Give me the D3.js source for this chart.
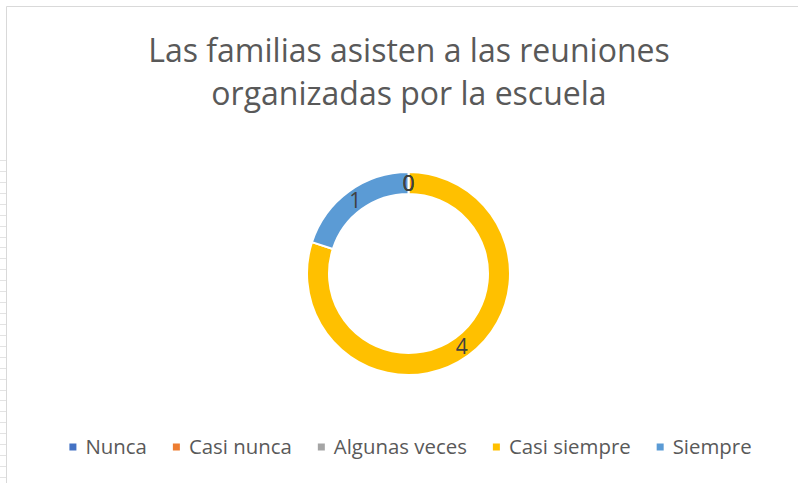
<!DOCTYPE html>
<html>
<head>
<meta charset="utf-8">
<script src="https://cdn.jsdelivr.net/npm/d3@7"></script>
<style>
  body { margin: 0; background: #fff; }
  svg text { font-family: "Open Sans", sans-serif; }
</style>
</head>
<body>
<div id="chart"></div>
<script>
var width = 798, height = 483;

// data
var categories = ["Nunca", "Casi nunca", "Algunas veces", "Casi siempre", "Siempre"];
var values = [0, 0, 0, 4, 1];
var colors = ["#4472C4", "#ED7D31", "#A5A5A5", "#FFC000", "#5B9BD5"];
var titleLines = ["Las familias asisten a las reuniones", "organizadas por la escuela"];

var svg = d3.select("#chart").append("svg")
    .attr("width", width)
    .attr("height", height);

// spreadsheet rows peeking out on the left
svg.append("g")
    .selectAll("line")
    .data(d3.range(160, height, 10.93))
  .enter().append("line")
    .attr("x1", 0).attr("x2", 7)
    .attr("y1", function(d) { return Math.round(d) + 0.5; })
    .attr("y2", function(d) { return Math.round(d) + 0.5; })
    .style("stroke", "#e3e3e3");

// chart frame
svg.append("path")
    .attr("d", "M6.5," + height + "V6.5H" + width)
    .style("fill", "none")
    .style("stroke", "#d9d9d9");

// title
svg.append("text")
    .attr("x", 409)
    .attr("text-anchor", "middle")
    .style("fill", "#595959")
    .style("font-size", "32px")
  .selectAll("tspan")
    .data(titleLines)
  .enter().append("tspan")
    .attr("x", 409)
    .attr("y", function(d, i) { return 62 + i * 43; })
    .text(function(d) { return d; });

// doughnut
var cx = 408.5, cy = 273.5, outerR = 101.5, innerR = 79.5;

var pie = d3.pie().sort(null).value(function(d) { return d; });
var arc = d3.arc().innerRadius(innerR).outerRadius(outerR);
var arcs = pie(values);

var g = svg.append("g").attr("transform", "translate(" + cx + "," + cy + ")");

g.selectAll("path")
    .data(arcs)
  .enter().append("path")
    .attr("d", arc)
    .style("fill", function(d, i) { return colors[i]; })
    .style("stroke", "white")
    .style("stroke-width", 2);

g.selectAll("text")
    .data(arcs)
  .enter().append("text")
    .attr("transform", function(d) { return "translate(" + arc.centroid(d) + ")"; })
    .attr("text-anchor", "middle")
    .attr("dy", "0.36em")
    .style("fill", "#404040")
    .style("font-size", "21px")
    .text(function(d) { return d.data; });

// legend
var legend = svg.append("g");
var items = legend.selectAll("g")
    .data(categories)
  .enter().append("g");

items.append("rect")
    .attr("width", 7).attr("height", 7)
    .attr("y", -3.5)
    .style("fill", function(d, i) { return colors[i]; });

items.append("text")
    .attr("x", 16)
    .attr("y", 0)
    .attr("dy", "0.35em")
    .style("fill", "#595959")
    .style("font-size", "20.4px")
    .text(function(d) { return d; });

var xPos = 0;
var offsets = [];
items.each(function() {
  offsets.push(xPos);
  var w = d3.select(this).select("text").node().getComputedTextLength();
  xPos += 16 + w + 26;
});
var total = xPos - 26;
var start = 410.5 - total / 2;
items.attr("transform", function(d, i) { return "translate(" + (start + offsets[i]) + ",447)"; });
</script>
</body>
</html>
